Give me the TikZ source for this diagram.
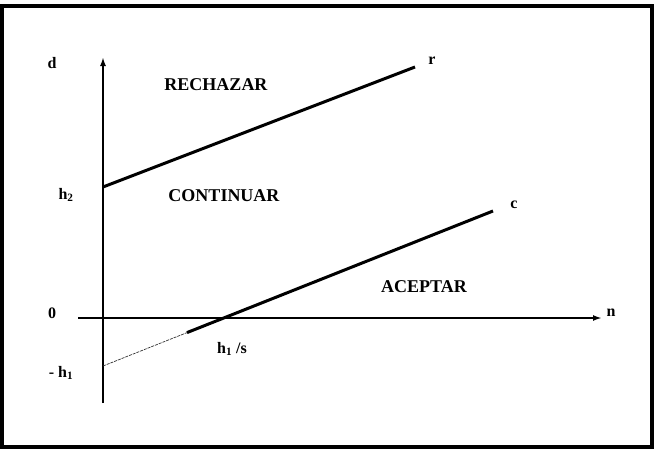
\documentclass[tikz,border=0pt]{standalone}
\usepackage{fontspec}
\setmainfont{Liberation Serif}
\usetikzlibrary{arrows.meta}
\begin{document}
\begin{tikzpicture}[x=1pt,y=-1pt,
  axis/.style={line width=2pt,-{Latex[length=9pt,width=6pt]}},
  bound/.style={line width=3pt},
  ext/.style={line width=0.7pt,dash pattern=on 3pt off 1pt,black!80},
  region/.style={font=\fontsize{18}{18}\selectfont\bfseries,inner sep=0pt},
  lbl/.style={font=\fontsize{16}{16}\selectfont\bfseries,inner sep=0pt}]
\useasboundingbox (0,0) rectangle (654,450);
\draw[line width=3.5pt] (2,6) rectangle (652,447);
% axes
\coordinate (ybot) at (103,403);
\coordinate (ytop) at (103,57);
\coordinate (xl) at (78,318);
\coordinate (xr) at (602,318);
\draw[axis] (ybot) -- (ytop);
\draw[axis] (xl) -- (xr);
% lines
\coordinate (rstart) at (103,187);
\coordinate (rend) at (415,67);
\coordinate (cstart) at (103,366);
\coordinate (cmid) at (187,332.6);
\coordinate (cend) at (493,211);
\draw[bound] (rstart) -- (rend);
\draw[ext] (cstart) -- (cmid);
\draw[bound] (cmid) -- (cend);
% labels
\node[lbl] (d) at (52,63) {d};
\node[lbl] (zero) at (52,313) {0};
\node[lbl] (h2) at (66,195) {h\textsubscript{2}};
\node[lbl] (mh1) at (61,373) {- h\textsubscript{1}};
\node[lbl] (h1s) at (232,349) {h\textsubscript{1} /s};
\node[lbl] (r) at (432,61) {r};
\node[lbl] (c) at (514,205) {c};
\node[lbl] (n) at (611,313) {n};
\node[region] (rech) at (216,85) {RECHAZAR};
\node[region] (cont) at (224,196) {CONTINUAR};
\node[region] (acep) at (424,287) {ACEPTAR};
\end{tikzpicture}
\end{document}
